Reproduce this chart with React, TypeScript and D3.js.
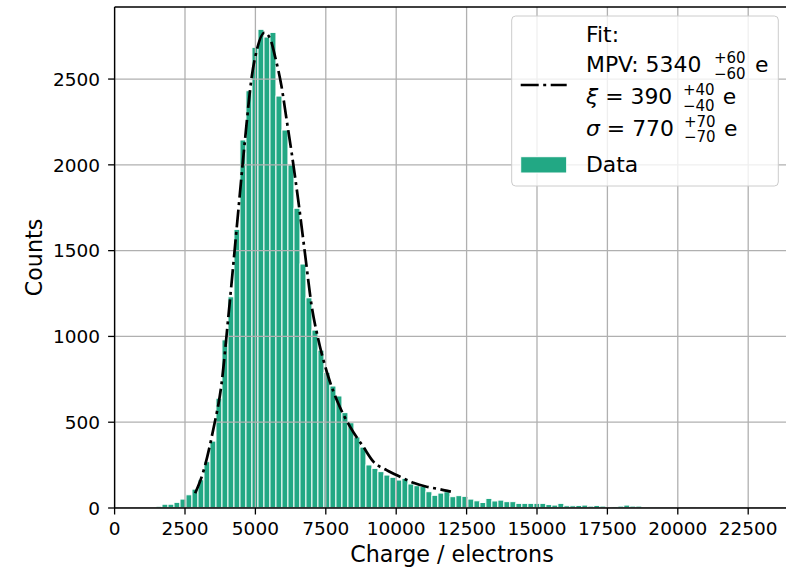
import React from "react";
import * as d3 from "d3";

// ---- data ----
const binStart = 1470;
const binWidth = 213;
const counts = [
  10, 22, 22, 33, 52, 77, 110, 165, 270, 390,
  640, 980, 1231, 1624, 2145, 2432, 2685, 2790, 2745, 2772,
  2401, 2203, 2000, 1747, 1422, 1225, 1037, 920, 790, 711,
  653, 556, 497, 414, 355, 251, 231, 212, 192, 179,
  163, 173, 140, 130, 125, 95, 74, 87, 95, 66,
  72, 68, 52, 42, 32, 56, 41, 46, 37, 37,
  27, 27, 27, 27, 27, 20, 17, 27, 13, 13,
  15, 17, 11, 15, 11, 3, 9, 11, 17, 11,
  11, 3, 6, 6, 2, 1, 1, 1, 2, 6,
  1, 0, 0, 0, 0, 0, 0, 0, 0, 1,
];
const fitX = [2860, 3150, 3500, 3800, 4040, 4340, 4630, 4870, 5050, 5320, 5520, 5700, 5930, 6110, 6290, 6520, 6760, 7000, 7230, 7590, 7940, 8360, 8830, 9190, 9660, 10140, 10610, 11080, 11560, 11940];
const fitY = [86, 212, 455, 727, 1115, 1639, 2145, 2514, 2669, 2770, 2737, 2630, 2455, 2261, 2067, 1795, 1484, 1175, 985, 765, 610, 474, 357, 270, 221, 182, 147, 124, 109, 95];
const xTicks = [0, 2500, 5000, 7500, 10000, 12500, 15000, 17500, 20000, 22500];
const yTicks = [0, 500, 1000, 1500, 2000, 2500];
const xLabel = "Charge / electrons";
const yLabel = "Counts";

const W = 786, H = 571;
const L = 114.6, R = 791, T = 7, B = 508;
const barColor = "#22a884";
const gridColor = "#b0b0b0";
const font = "DejaVu Sans, Verdana, sans-serif";
const dash = "18,4.5,3,4.5";

export default function App() {
  const x = d3.scaleLinear().domain([0, 24020]).range([L, R]);
  const y = d3.scaleLinear().domain([0, 2920]).range([B, T]);
  const line = d3
    .line<number>()
    .x((_, i) => x(fitX[i]))
    .y((d) => y(d))
    .curve(d3.curveMonotoneX);
  const bw = x(binWidth) - x(0);

  return (
    <svg width={W} height={H} style={{ position: "absolute", left: 0, top: 0, background: "#fff", display: "block" }} fontFamily={font}>
      <rect x={0} y={0} width={W} height={H} fill="#fff" />
      <defs>
        <clipPath id="plot">
          <rect x={L} y={T} width={R - L} height={B - T} />
        </clipPath>
      </defs>
      <g clipPath="url(#plot)">
        {counts.map((c, i) =>
          c > 0 ? (
            <rect
              key={i}
              x={x(binStart + i * binWidth)}
              y={y(c)}
              width={bw}
              height={B - y(c)}
              fill={barColor}
              stroke="#fff"
              strokeWidth={1}
            />
          ) : null
        )}
        {xTicks.map((t) => (
          <line key={"gx" + t} x1={x(t)} x2={x(t)} y1={T} y2={B} stroke={gridColor} strokeWidth={1.3} />
        ))}
        {yTicks.map((t) => (
          <line key={"gy" + t} x1={L} x2={R} y1={y(t)} y2={y(t)} stroke={gridColor} strokeWidth={1.3} />
        ))}
        <path d={line(fitY) || ""} fill="none" stroke="#000" strokeWidth={2.7} strokeDasharray={dash} />
      </g>
      {/* spines */}
      <line x1={L} x2={L} y1={T} y2={B} stroke="#000" strokeWidth={1.4} />
      <line x1={L} x2={R} y1={B} y2={B} stroke="#000" strokeWidth={1.4} />
      <line x1={L} x2={R} y1={T} y2={T} stroke="#000" strokeWidth={1.4} />
      {/* x ticks */}
      {xTicks.map((t) => (
        <g key={"xt" + t}>
          <line x1={x(t)} x2={x(t)} y1={B} y2={B + 6.5} stroke="#000" strokeWidth={1.3} />
          <text x={x(t)} y={535} textAnchor="middle" fontSize={18.5} fill="#000">
            {t}
          </text>
        </g>
      ))}
      {/* y ticks */}
      {yTicks.map((t) => (
        <g key={"yt" + t}>
          <line x1={L - 6.5} x2={L} y1={y(t)} y2={y(t)} stroke="#000" strokeWidth={1.3} />
          <text x={100} y={y(t)} dy="0.36em" textAnchor="end" fontSize={18.5} fill="#000">
            {t}
          </text>
        </g>
      ))}
      <text x={452} y={561.5} textAnchor="middle" fontSize={22.2} fill="#000">
        {xLabel}
      </text>
      <text transform={`translate(41.5,${(T + B) / 2}) rotate(-90)`} textAnchor="middle" fontSize={22.2} fill="#000">
        {yLabel}
      </text>
      {/* legend */}
      <g>
        <rect x={511.7} y={16} width={266.6} height={170} rx={4} fill="#fff" fillOpacity={0.8} stroke="#cccccc" strokeWidth={1} />
        <line x1={520.7} x2={566.7} y1={85} y2={85} stroke="#000" strokeWidth={2.7} strokeDasharray={dash} />
        <rect x={520.7} y={156.7} width={46} height={16.3} fill={barColor} stroke="#fff" strokeWidth={1} />
        <g fontSize={21.9} fill="#000">
          <text x={586} y={42.3}>Fit:</text>
          <text x={586} y={72.3}>MPV: 5340</text>
          <text x={714} y={63} fontSize={15}>+60</text>
          <text x={714} y={78.5} fontSize={15}>−60</text>
          <text x={755} y={72.3}>e</text>
          <text x={586} y={104.3}>
            <tspan fontStyle="italic">ξ</tspan>
            <tspan> = 390</tspan>
          </text>
          <text x={683} y={95} fontSize={15}>+40</text>
          <text x={683} y={110.5} fontSize={15}>−40</text>
          <text x={722.7} y={104.3}>e</text>
          <text x={586} y={136}>
            <tspan fontStyle="italic">σ</tspan>
            <tspan> = 770</tspan>
          </text>
          <text x={684} y={126.7} fontSize={15}>+70</text>
          <text x={684} y={142.2} fontSize={15}>−70</text>
          <text x={724} y={136}>e</text>
          <text x={586} y={172.3}>Data</text>
        </g>
      </g>
    </svg>
  );
}
